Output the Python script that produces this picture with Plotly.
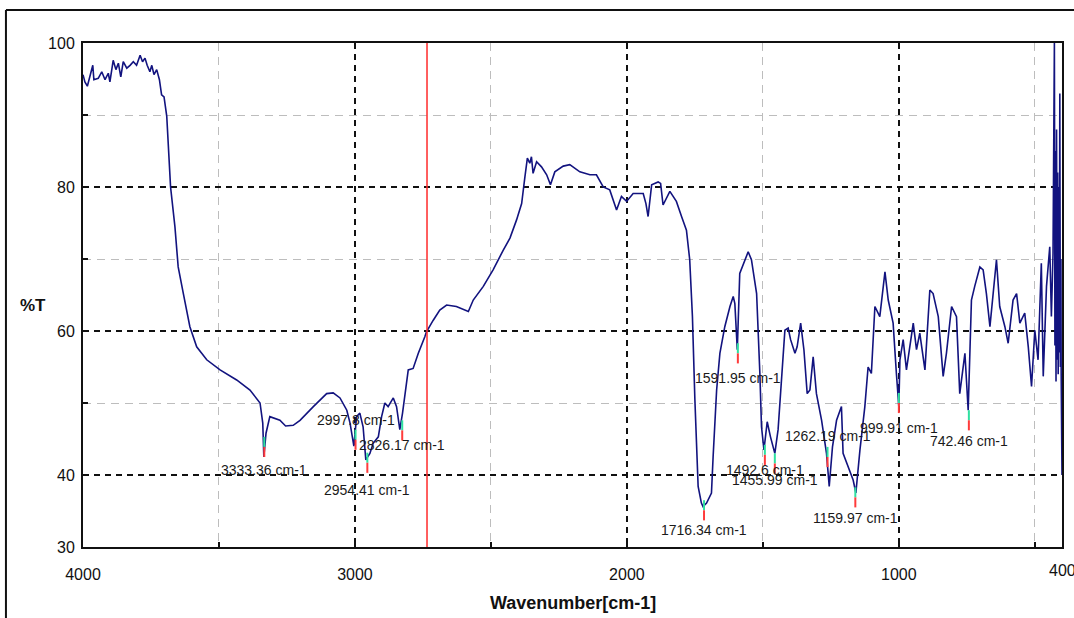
import plotly.graph_objects as go

# ---- spectrum (wavenumber in cm-1, transmittance in %T) ----
wavenumber = [
    4000, 3993, 3984, 3974, 3964, 3960, 3944, 3931, 3919, 3907, 3901, 3889, 3879, 3870, 3861,
    3852, 3839, 3827, 3815, 3803, 3790, 3781, 3772, 3764, 3754, 3747, 3739, 3729, 3719, 3711,
    3702, 3692, 3686, 3678, 3662, 3650, 3631, 3607, 3582, 3545, 3496, 3435, 3386, 3349, 3339,
    3335, 3327, 3313, 3276, 3255, 3227, 3202, 3153, 3104, 3080, 3055, 3030, 3018, 3004, 2994,
    2982, 2970, 2960, 2945, 2933, 2914, 2902, 2890, 2878, 2859, 2847, 2835, 2825, 2816, 2804,
    2786, 2767, 2743, 2737, 2712, 2688, 2663, 2627, 2583, 2565, 2528, 2492, 2455, 2430, 2406,
    2387, 2375, 2366, 2357, 2351, 2345, 2332, 2314, 2295, 2281, 2265, 2234, 2210, 2173, 2136,
    2112, 2087, 2063, 2038, 2020, 2001, 1977, 1940, 1930, 1922, 1909, 1885, 1876, 1867, 1842,
    1818, 1799, 1781, 1769, 1759, 1750, 1738, 1726, 1720, 1707, 1689, 1683, 1670, 1658, 1640,
    1621, 1609, 1603, 1594, 1585, 1566, 1554, 1542, 1523, 1511, 1505, 1496, 1484, 1472, 1456,
    1444, 1431, 1419, 1407, 1398, 1382, 1374, 1361, 1349, 1337, 1327, 1315, 1303, 1284, 1266,
    1256, 1244, 1229, 1211, 1205, 1186, 1168, 1158, 1143, 1125, 1113, 1101, 1088, 1070, 1051,
    1039, 1021, 1009, 1003, 1000, 996, 984, 972, 960, 947, 935, 923, 904, 886, 874,
    855, 837, 825, 806, 788, 776, 757, 745, 733, 721, 702, 690, 678, 665, 653,
    641, 629, 610, 598, 580, 567, 555, 537, 524, 512, 500, 488, 476, 469, 457,
    445, 439, 433, 430, 428, 426, 424, 422, 420, 418, 416, 414, 412, 410, 408,
    406, 404, 403, 401, 400,
]
transmittance = [
    95.6, 94.6, 94.0, 95.3, 96.9, 94.9, 95.1, 96.0, 94.9, 95.8, 94.6, 97.6, 96.3, 97.2, 95.3,
    97.4, 96.5, 96.9, 97.4, 96.9, 98.3, 97.4, 97.9, 96.9, 96.0, 96.9, 95.6, 96.3, 94.9, 92.8,
    92.5, 89.8, 86.1, 80.0, 74.5, 68.9, 65.2, 60.6, 57.8, 56.0, 54.6, 53.2, 51.8, 50.0, 47.2,
    42.5, 45.8, 48.1, 47.6, 46.8, 46.9, 47.6, 49.5, 51.3, 51.4, 50.7, 49.0, 47.2, 44.0, 48.1,
    48.6, 46.7, 42.1, 43.0, 44.4, 45.3, 48.1, 50.0, 49.5, 50.7, 49.5, 46.3, 48.6, 51.3, 54.6,
    54.8, 56.9, 59.2, 59.9, 61.5, 62.9, 63.6, 63.4, 62.7, 64.3, 66.2, 68.5, 71.2, 72.9, 75.4,
    77.7, 81.4, 84.0, 83.3, 84.2, 81.9, 83.5, 82.8, 81.7, 80.3, 82.1, 82.9, 83.1, 82.1, 81.7,
    81.7, 80.0, 79.6, 76.8, 78.7, 78.0, 79.1, 79.1, 77.7, 75.9, 80.3, 80.7, 80.5, 77.5, 79.4,
    78.0, 75.9, 74.0, 69.9, 62.0, 50.5, 38.4, 36.1, 35.6, 36.1, 37.5, 42.5, 51.8, 56.9, 60.6,
    63.4, 64.8, 63.8, 57.4, 68.0, 69.9, 71.0, 69.9, 65.2, 54.1, 46.7, 43.5, 47.4, 45.3, 43.0,
    46.3, 54.1, 60.1, 60.4, 58.8, 56.9, 57.8, 61.1, 57.4, 51.3, 51.8, 56.4, 51.3, 47.6, 43.0,
    38.4, 43.9, 47.6, 49.5, 43.0, 41.2, 39.3, 37.5, 43.5, 49.5, 55.0, 54.1, 63.4, 62.0, 68.2,
    64.3, 61.1, 54.1, 51.3, 49.5, 56.0, 58.8, 54.6, 57.8, 61.1, 57.4, 59.7, 54.6, 65.7, 65.2,
    62.0, 53.7, 56.9, 63.4, 62.0, 51.3, 56.9, 49.0, 64.3, 66.2, 68.9, 68.5, 65.2, 60.6, 65.2,
    69.9, 63.4, 60.6, 58.3, 64.3, 65.2, 61.1, 62.5, 57.8, 52.3, 60.1, 56.0, 69.4, 53.7, 66.2,
    71.7, 62.0, 70.8, 92.0, 100.0, 58.0, 85.0, 53.0, 88.0, 56.0, 82.0, 54.0, 80.0, 57.0, 93.0,
    55.0, 70.0, 54.0, 45.0, 40.0,
]

# ---- labelled peaks ----
peak_wn = [3333.36, 2997.8, 2954.41, 2826.17, 1716.34, 1591.95,
           1492.6, 1455.99, 1262.19, 1159.97, 999.91, 742.46]
peak_T = [45.3, 46.3, 43.1, 47.6, 36.5, 58.3, 44.2, 43.0, 43.9, 38.3, 51.4, 49.0]
label_T = [40.7, 47.6, 37.9, 44.2, 32.4, 53.5, 40.7, 39.3, 45.4, 34.0, 46.5, 44.7]

cursor_wn = 2735

x_ticks = [4000, 3000, 2000, 1000, 400]
x_minor = [3500, 2500, 1500, 500]
y_ticks = [30, 40, 60, 80, 100]
y_minor = [50, 70, 90]
x_range = [4000, 400]
y_range = [30, 100]

fig = go.Figure()
fig.add_trace(go.Scatter(x=wavenumber, y=transmittance, mode="lines",
                         line=dict(color="#12137f", width=1.6), hoverinfo="skip"))

# peak marker ticks (green upper half, red lower half)
gx, gy, rx, ry = [], [], [], []
for w, t in zip(peak_wn, peak_T):
    gx += [w, w, None]
    gy += [t, t - 1.4, None]
    rx += [w, w, None]
    ry += [t - 1.4, t - 2.8, None]
fig.add_trace(go.Scatter(x=gx, y=gy, mode="lines", line=dict(color="#2fe0a0", width=2),
                         hoverinfo="skip"))
fig.add_trace(go.Scatter(x=rx, y=ry, mode="lines", line=dict(color="#ff3b3b", width=2),
                         hoverinfo="skip"))

# red cursor line
fig.add_shape(type="line", xref="x", yref="y", x0=cursor_wn, x1=cursor_wn,
              y0=y_range[0], y1=y_range[1], line=dict(color="#ff2a2a", width=1.5))

for w, ly in zip(peak_wn, label_T):
    fig.add_annotation(x=w, y=ly, xref="x", yref="y", text=f"{w:g} cm-1", showarrow=False,
                       font=dict(family="Liberation Sans, Arial, sans-serif", size=14,
                                 color="#1a1a1a"),
                       xanchor="center", yanchor="middle")

axis_font = dict(family="Liberation Sans, Arial, sans-serif", size=16, color="#111")

# last x tick label (plotly drops it since it overflows the page edge)
fig.add_annotation(x=x_ticks[-1], y=-0.047, xref="x", yref="paper", text=str(x_ticks[-1]),
                   showarrow=False, xanchor="center", yanchor="middle", font=axis_font)

# axis titles
fig.add_annotation(x=0.5, y=-0.111, xref="paper", yref="paper", text="<b>Wavenumber[cm-1]</b>",
                   showarrow=False, xanchor="center", yanchor="middle",
                   font=dict(family="Liberation Sans, Arial, sans-serif", size=18, color="#111"))
fig.add_annotation(x=-0.051, y=0.48, xref="paper", yref="paper", text="<b>%T</b>",
                   showarrow=False, xanchor="center", yanchor="middle",
                   font=dict(family="Liberation Sans, Arial, sans-serif", size=17, color="#111"))

# outer frame
fig.add_shape(type="line", xref="paper", yref="paper", x0=-0.0787, x1=1.03, y0=1.0655, y1=1.0655,
              line=dict(color="#111", width=2))
fig.add_shape(type="line", xref="paper", yref="paper", x0=-0.0787, x1=-0.0787, y0=1.0655, y1=-0.16,
              line=dict(color="#111", width=2))

fig.update_xaxes(range=x_range, tickvals=x_ticks, ticks="inside", ticklen=5, tickwidth=1.5,
                 tickcolor="#111", showline=True, linecolor="#111", linewidth=2, mirror=True,
                 showgrid=True, gridcolor="#111", gridwidth=1.6, griddash="6px,5px",
                 zeroline=False, tickfont=axis_font, ticklabelstandoff=12, automargin=False,
                 minor=dict(tickvals=x_minor, ticks="inside", ticklen=5, tickcolor="#111",
                            showgrid=True, gridcolor="#bdbdbd", gridwidth=1.4,
                            griddash="8px,6px"))
fig.update_yaxes(range=y_range, tickvals=y_ticks, ticks="inside", ticklen=5, tickwidth=1.5,
                 tickcolor="#111", showline=True, linecolor="#111", linewidth=2, mirror=True,
                 showgrid=True, gridcolor="#111", gridwidth=1.6, griddash="6px,5px",
                 zeroline=False, tickfont=axis_font, ticklabelstandoff=3, automargin=False,
                 minor=dict(tickvals=y_minor, ticks="inside", ticklen=5, tickcolor="#111",
                            showgrid=True, gridcolor="#bdbdbd", gridwidth=1.4,
                            griddash="8px,6px"))

fig.update_layout(width=1074, height=618, autosize=False, showlegend=False,
                  margin=dict(l=83, r=12, t=43, b=71, autoexpand=False),
                  paper_bgcolor="white", plot_bgcolor="white")

fig.write_html("out.html", config={"displayModeBar": False},
               post_script="document.body.style.margin='0';document.body.style.overflow='hidden';")
